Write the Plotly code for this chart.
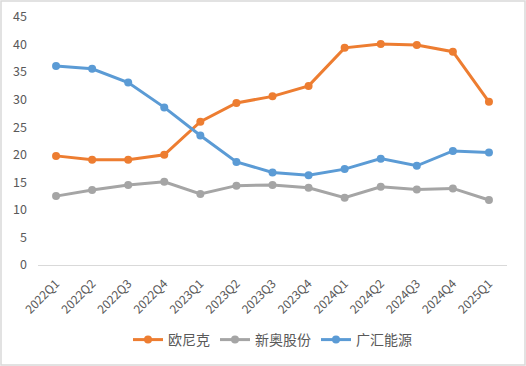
import plotly.graph_objects as go

quarters = ["2022Q1", "2022Q2", "2022Q3", "2022Q4", "2023Q1", "2023Q2", "2023Q3",
            "2023Q4", "2024Q1", "2024Q2", "2024Q3", "2024Q4", "2025Q1"]
ounike = [19.8, 19.1, 19.1, 20.0, 26.0, 29.4, 30.6, 32.5, 39.4, 40.1, 39.9, 38.7, 29.6]
xinao = [12.5, 13.6, 14.5, 15.1, 12.9, 14.4, 14.5, 14.0, 12.2, 14.2, 13.7, 13.9, 11.8]
guanghui = [36.1, 35.6, 33.1, 28.6, 23.5, 18.7, 16.8, 16.3, 17.4, 19.3, 18.0, 20.7, 20.4]

series = [("欧尼克", ounike, "#ED7D31"),
          ("新奥股份", xinao, "#A5A5A5"),
          ("广汇能源", guanghui, "#5B9BD5")]

fig = go.Figure()
for name, vals, col in series:
    fig.add_trace(go.Scatter(x=quarters, y=vals, name=name, mode="lines+markers",
                             line=dict(color=col, width=3),
                             marker=dict(color=col, size=8)))

L, R, T, B = 38, 19, 17, 101
W, H = 526, 366
pw, ph = W - L - R, H - T - B

fig.update_layout(
    width=W, height=H,
    margin=dict(l=L, r=R, t=T, b=B, autoexpand=False),
    paper_bgcolor="white", plot_bgcolor="white",
    font=dict(family="Noto Sans CJK SC, sans-serif", size=12, color="#595959"),
    showlegend=True,
    legend=dict(orientation="h", x=0.5, xanchor="center", y=(T + ph - 340) / ph,
                yanchor="middle", font=dict(size=14, color="#595959"),
                itemwidth=30, traceorder="normal"),
    xaxis=dict(type="category", tickangle=-45, showgrid=False, showline=True,
               linecolor="#D9D9D9", linewidth=1, ticks="", tickfont=dict(size=12),
               ticklabelstandoff=6, automargin=False,
               range=[-0.5, len(quarters) - 0.5]),
    yaxis=dict(range=[0, 45], dtick=5, showgrid=False, zeroline=False, showline=False,
               ticks="", tickfont=dict(size=12.5), ticklabelstandoff=10, automargin=False),
    shapes=[dict(type="rect", xref="paper", yref="paper",
                 x0=(-L + 1) / pw, x1=(W - L - 1) / pw,
                 y0=-(B - 1) / ph, y1=(ph + T - 1) / ph,
                 line=dict(color="#D9D9D9", width=1.5), fillcolor="rgba(0,0,0,0)")],
)

fig.write_html("out.html")
